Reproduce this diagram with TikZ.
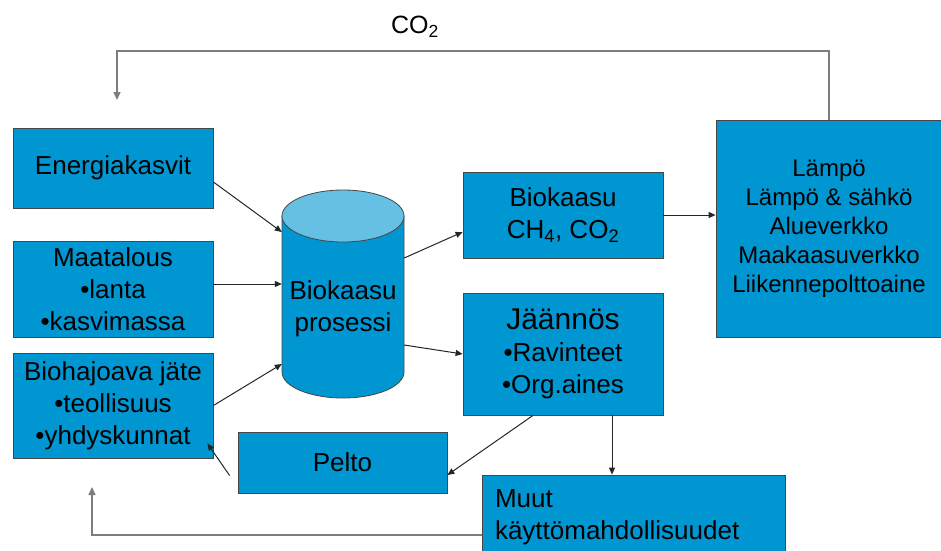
\documentclass[tikz,border=0pt]{standalone}
\usepackage{fontspec}
\setmainfont{Liberation Sans}
\usetikzlibrary{arrows.meta,positioning,calc}
\definecolor{boxBlue}{RGB}{0,150,210}
\definecolor{capBlue}{RGB}{102,192,228}
\definecolor{edgeGray}{RGB}{70,70,70}
\definecolor{loopGray}{RGB}{125,125,125}

\begin{document}
\begin{tikzpicture}[x=1pt, y=-1pt,
    blk/.style={draw=edgeGray, line width=0.8pt, fill=boxBlue, inner sep=0pt,
                align=center, font=\fontsize{26}{32}\selectfont},
    flow/.style={draw=black!85, line width=1pt, -{Triangle[length=7pt,width=6pt]}},
    loop/.style={draw=loopGray, line width=1.5pt, -{Triangle[length=8pt,width=7pt]}}]
  \useasboundingbox (0,0) rectangle (941,550);

  % Input boxes
  \node[blk, minimum width=200, minimum height=80] (energ) at (113,168) {Energiakasvit};
  \node[blk, minimum width=200, minimum height=96] (maat) at (113,289)
    {Maatalous\\•lanta\\•kasvimassa};
  \node[blk, minimum width=200, minimum height=105] (bioj) at (113,405.5)
    {Biohajoava jäte\\•teollisuus\\•yhdyskunnat};

  % Process cylinder
  \node[minimum width=122, minimum height=208, inner sep=0pt] (proc) at (343,294) {};
  \filldraw[fill=boxBlue, draw=edgeGray, line width=0.8pt]
    (282,216) -- (282,372) arc[start angle=180, end angle=360, x radius=61pt, y radius=26pt]
    -- (404,216) -- cycle;
  \filldraw[fill=capBlue, draw=edgeGray, line width=0.8pt]
    (343,216) ellipse[x radius=61pt, y radius=26pt];
  \node[align=center, font=\fontsize{26}{32}\selectfont] (proclbl) at (343,309)
    {Biokaasu\\prosessi};

  % Products
  \node[blk, minimum width=200, minimum height=86] (biok) at (563,215)
    {Biokaasu\\CH\textsubscript{4}, CO\textsubscript{2}};
  \node[blk, minimum width=200, minimum height=122] (jaan) at (563,354)
    {{\fontsize{30}{34}\selectfont Jäännös}\\•Ravinteet\\•Org.aines};
  \node[blk, minimum width=226, minimum height=217, font=\fontsize{24}{29}\selectfont]
    (lampo) at (829,228.5)
    {Lämpö\\Lämpö \& sähkö\\Alueverkko\\Maakaasuverkko\\Liikennepolttoaine};
  \node[blk, minimum width=209, minimum height=61] (pelto) at (342.5,462.5) {Pelto};
  \node[blk, minimum width=303, minimum height=84, align=left, text width=277]
    (muut) at (633.5,517) {Muut\\käyttömahdollisuudet};

  % Flows
  \coordinate (maatout) at ([yshift=5pt]maat.east);
  \draw[flow] ([yshift=-14pt]energ.east) -- ([yshift=62pt]proc.west);
  \draw[flow] (maatout) -- (proc.west |- maatout);
  \draw[flow] (bioj.east) -- ([yshift=-70pt]proc.west);
  \draw[flow] ([yshift=36pt]proc.east) -- ([yshift=-17pt]biok.west);
  \draw[flow] ([yshift=-51pt]proc.east) -- (jaan.west);
  \draw[flow] (biok.east) -- (biok.east -| lampo.west);
  \draw[flow] ([xshift=-30pt]jaan.south) -- ([yshift=-12.5pt]pelto.east);
  \draw[flow] ([xshift=49pt]jaan.south) -- ([xshift=49pt]jaan.south |- muut.north);
  \draw[flow] ([xshift=-8pt,yshift=-13pt]pelto.west) -- ([xshift=-6pt,yshift=15pt]bioj.south east);

  % Return loops
  \coordinate (co2in) at (117,100);
  \coordinate (co2top) at (117,51);
  \draw[loop] (lampo.north) |- (co2top) -- (co2in);
  \node[font=\fontsize{25}{30}\selectfont] (co2) at (415,27) {CO\textsubscript{2}};
  \coordinate (recin) at (92,487);
  \draw[loop] ([yshift=-18pt]muut.west) -| (recin);
\end{tikzpicture}
\end{document}
